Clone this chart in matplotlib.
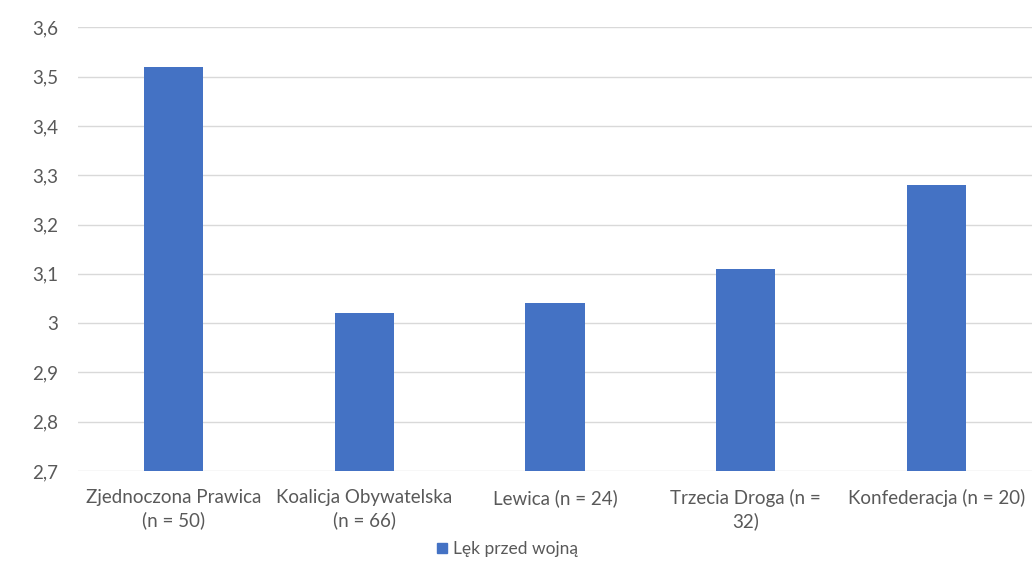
import matplotlib
matplotlib.use("Agg")
import matplotlib.pyplot as plt
from matplotlib.patches import Patch

categories = ["Zjednoczona Prawica\n(n = 50)", "Koalicja Obywatelska\n(n = 66)",
              "Lewica (n = 24)", "Trzecia Droga (n =\n32)", "Konfederacja (n = 20)"]
values = [3.52, 3.02, 3.04, 3.11, 3.28]
series_name = "Lęk przed wojną"
yticks = [2.7, 2.8, 2.9, 3.0, 3.1, 3.2, 3.3, 3.4, 3.5, 3.6]
ytick_labels = ["2,7", "2,8", "2,9", "3", "3,1", "3,2", "3,3", "3,4", "3,5", "3,6"]

plt.rcParams['font.family'] = ['Lato', 'DejaVu Sans']
bar_color = "#4472C4"
text_color = "#595959"

fig = plt.figure(figsize=(10.32, 5.85), dpi=100)
ax = fig.add_axes([0.0756, 0.195, 0.9244, 0.758])
x = list(range(len(categories)))
ax.bar(x, values, width=0.31, color=bar_color, zorder=3)
ax.set_xlim(-0.5, len(categories) - 0.5)
ax.set_ylim(2.7, 3.6)
ax.set_yticks(yticks)
ax.set_yticklabels(ytick_labels, fontsize=13.5, color=text_color)
ax.set_xticks(x)
ax.set_xticklabels(categories, fontsize=13.5, color=text_color, linespacing=1.35)
ax.tick_params(axis='both', length=0)
ax.tick_params(axis='y', pad=14)
ax.tick_params(axis='x', pad=13)
ax.grid(axis='y', color='#d9d9d9', linewidth=1, zorder=0)
for s in ax.spines.values():
    s.set_visible(False)

fig.legend(handles=[Patch(color=bar_color, label=series_name)], loc='center',
           bbox_to_anchor=(0.492, 1 - 549 / 585), frameon=False, fontsize=12.5,
           handlelength=0.55, handleheight=0.55, handletextpad=0.4, labelcolor=text_color)

fig.savefig("out.png", dpi=100, facecolor='white')
